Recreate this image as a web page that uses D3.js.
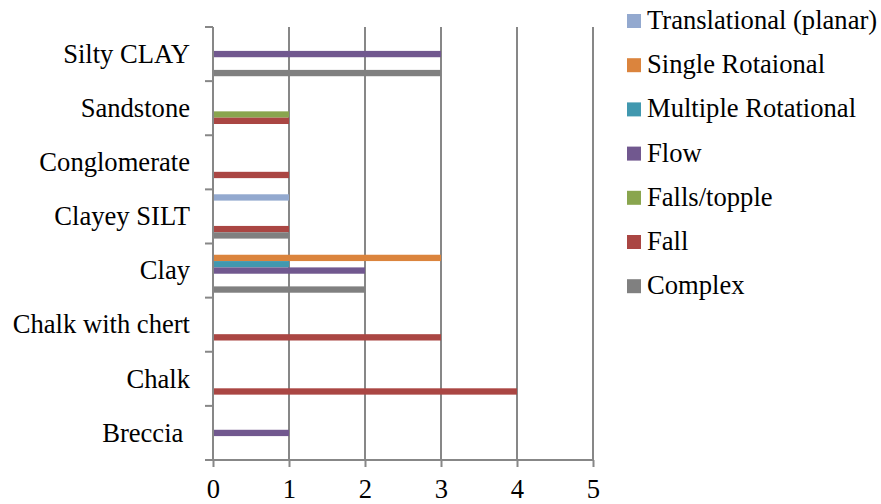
<!DOCTYPE html>
<html>
<head>
<meta charset="utf-8">
<script src="https://cdn.jsdelivr.net/npm/d3@7/dist/d3.min.js"></script>
<style>
  html, body { margin: 0; padding: 0; background: #fff; }
  svg { display: block; }
</style>
</head>
<body>
<svg id="chart" width="881" height="504"></svg>
<script>
// Rock types, listed from the top of the chart to the bottom
const categories = ["Silty CLAY", "Sandstone", "Conglomerate", "Clayey SILT", "Clay",
                    "Chalk with chert", "Chalk", "Breccia "];

// Landslide types, in the order they are stacked inside each rock group
const seriesNames = ["Translational (planar)", "Single Rotaional", "Multiple Rotational",
                     "Flow", "Falls/topple", "Fall", "Complex"];
const seriesColors = ["#93A9CF", "#DB843D", "#4198AF", "#71588F", "#89A54E", "#AA4643", "#808080"];

// Counts per series, aligned with categories
const translational = [0, 0, 0, 1, 0, 0, 0, 0];
const singleRotational = [0, 0, 0, 0, 3, 0, 0, 0];
const multipleRotational = [0, 0, 0, 0, 1, 0, 0, 0];
const flow = [3, 0, 0, 0, 2, 0, 0, 1];
const fallsTopple = [0, 1, 0, 0, 0, 0, 0, 0];
const fall = [0, 1, 1, 1, 0, 3, 4, 0];
const complex = [3, 0, 0, 1, 2, 0, 0, 0];

const xTicks = [0, 1, 2, 3, 4, 5];

const seriesValues = [translational, singleRotational, multipleRotational, flow,
                      fallsTopple, fall, complex];

const svg = d3.select("#chart");
const plot = { left: 213, right: 593, top: 27, bottom: 460 };
const gridColor = "#878787";

function serif(sel) {
  sel.style("font-family", "'Liberation Serif'").style("font-size", "26.6px").attr("fill", "#000");
}

const x = d3.scaleLinear().domain([0, 5]).range([plot.left, plot.right]);
const y = d3.scaleBand().domain(categories).range([plot.top, plot.bottom]).padding(0);
const ySeries = d3.scaleBand().domain(seriesNames).range([0, y.bandwidth()])
  .paddingInner(0).paddingOuter(0.775);

// vertical gridlines
svg.append("g").selectAll("line")
  .data(xTicks.filter(d => d > 0))
  .join("line")
  .attr("x1", d => x(d)).attr("x2", d => x(d))
  .attr("y1", plot.top).attr("y2", plot.bottom)
  .attr("stroke", gridColor).attr("stroke-width", 2);

// bars
const rows = [];
seriesNames.forEach((s, si) => {
  categories.forEach((c, ci) => {
    const v = seriesValues[si][ci];
    if (v > 0) rows.push({ series: s, cat: c, value: v, color: seriesColors[si] });
  });
});

svg.append("g").selectAll("rect")
  .data(rows)
  .join("rect")
  .attr("x", x(0))
  .attr("y", d => y(d.cat) + ySeries(d.series))
  .attr("width", d => x(d.value) - x(0))
  .attr("height", ySeries.bandwidth())
  .attr("fill", d => d.color);

// x axis
const xAxis = svg.append("g")
  .attr("transform", `translate(0,${plot.bottom})`)
  .call(d3.axisBottom(x).tickValues(xTicks).tickFormat(d3.format("d"))
    .tickSize(7).tickSizeOuter(0).tickPadding(12.5));
xAxis.attr("font-family", null).attr("font-size", null);
xAxis.select(".domain").attr("stroke", gridColor).attr("stroke-width", 2)
  .attr("d", `M${plot.left - 8},0H${plot.right}`);
xAxis.selectAll(".tick line").attr("stroke", gridColor).attr("stroke-width", 2);
xAxis.selectAll(".tick text").call(serif);

// y axis: line with tick marks between rock groups
const yAxis = svg.append("g");
yAxis.append("line")
  .attr("x1", plot.left).attr("x2", plot.left)
  .attr("y1", plot.top).attr("y2", plot.bottom)
  .attr("stroke", gridColor).attr("stroke-width", 2);
const boundaries = categories.map(c => y(c)).concat([plot.bottom]);
yAxis.selectAll("line.tick")
  .data(boundaries)
  .join("line")
  .attr("class", "tick")
  .attr("x1", plot.left - 8).attr("x2", plot.left)
  .attr("y1", d => d).attr("y2", d => d)
  .attr("stroke", gridColor).attr("stroke-width", 2);
yAxis.selectAll("text")
  .data(categories)
  .join("text")
  .attr("x", plot.left - 23)
  .attr("y", d => y(d) + y.bandwidth() / 2)
  .attr("dy", "0.33em")
  .attr("text-anchor", "end")
  .style("white-space", "pre")
  .call(serif)
  .text(d => d);

// legend
const legend = svg.append("g").attr("transform", "translate(627,21)");
const item = legend.selectAll("g")
  .data(seriesNames)
  .join("g")
  .attr("transform", (d, i) => `translate(0,${i * 44.2})`);
item.append("rect")
  .attr("x", 0).attr("y", -7).attr("width", 14).attr("height", 14)
  .attr("fill", (d, i) => seriesColors[i]);
item.append("text")
  .attr("x", 20).attr("y", 0).attr("dy", "0.3em")
  .call(serif)
  .text(d => d);
</script>
</body>
</html>
